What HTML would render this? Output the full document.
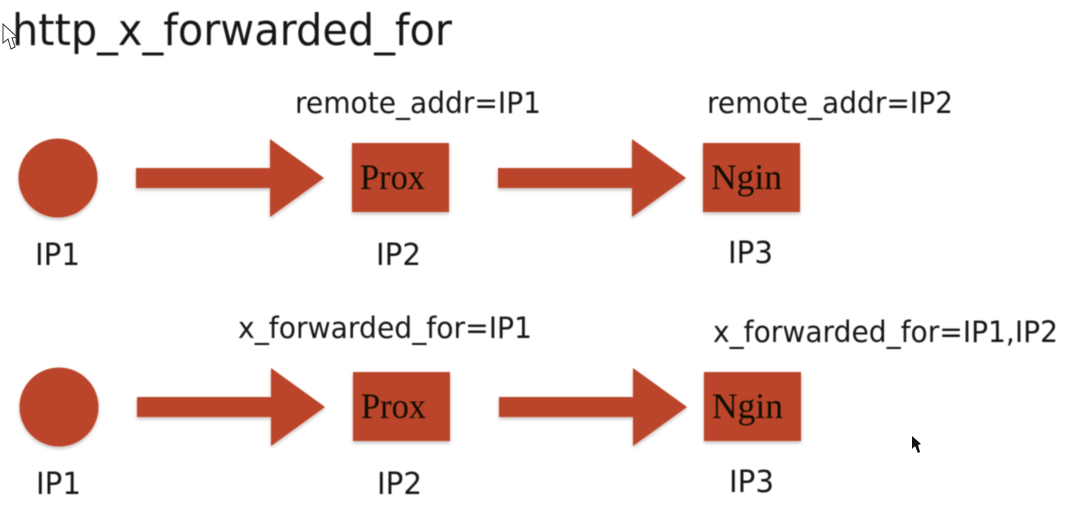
<!DOCTYPE html>
<html>
<head>
<meta charset="utf-8">
<style>
html,body{margin:0;padding:0;background:#fff;width:1079px;height:525px;overflow:hidden}
svg{display:block}
.s{font-family:"DejaVu Sans","Liberation Sans",sans-serif;fill:#161616}
.m{font-family:"Liberation Serif",serif;fill:#0e0804;font-size:36px}
</style>
</head>
<body>
<svg width="1079" height="525" viewBox="0 0 1079 525" xmlns="http://www.w3.org/2000/svg">
<defs>
<filter id="sh" x="-10%" y="-10%" width="120%" height="125%"><feGaussianBlur in="SourceGraphic" stdDeviation="0.4" result="g"/><feDropShadow in="g" dx="0" dy="2" stdDeviation="1.5" flood-color="#000" flood-opacity=".25"/></filter>
<filter id="b" x="-5%" y="-20%" width="110%" height="140%"><feGaussianBlur stdDeviation="0.4"/></filter>
</defs>
<rect width="1079" height="525" fill="#fff"/>
<g fill="#bb452a" filter="url(#sh)">
<circle cx="58" cy="178" r="39.5"/>
<polygon points="136,168 270,168 270,139 324,178 270,217 270,188 136,188"/>
<rect x="352" y="143" width="97" height="69"/>
<polygon points="498,168 632,168 632,139 686,178 632,217 632,188 498,188"/>
<rect x="703" y="143" width="97" height="69"/>
<circle cx="59" cy="407" r="39.5"/>
<polygon points="137,397 271,397 271,368 325,407 271,446 271,417 137,417"/>
<rect x="353" y="372" width="97" height="69"/>
<polygon points="499,397 633,397 633,368 687,407 633,446 633,417 499,417"/>
<rect x="704" y="372" width="97" height="69"/>
</g>
<g filter="url(#b)">
<text class="s" x="12" y="45" font-size="44" textLength="440" lengthAdjust="spacingAndGlyphs">http_x_forwarded_for</text>
<text class="s" x="295" y="113" font-size="29" textLength="246" lengthAdjust="spacingAndGlyphs">remote_addr=IP1</text>
<text class="s" x="707" y="113" font-size="29" textLength="246" lengthAdjust="spacingAndGlyphs">remote_addr=IP2</text>
<text class="s" x="238" y="338" font-size="29" textLength="294" lengthAdjust="spacingAndGlyphs">x_forwarded_for=IP1</text>
<text class="s" x="713" y="342" font-size="29" textLength="345" lengthAdjust="spacingAndGlyphs">x_forwarded_for=IP1,IP2</text>
<text class="s" x="35" y="265" font-size="30" textLength="45" lengthAdjust="spacingAndGlyphs">IP1</text>
<text class="s" x="376" y="265" font-size="30" textLength="45" lengthAdjust="spacingAndGlyphs">IP2</text>
<text class="s" x="728" y="263" font-size="30" textLength="45" lengthAdjust="spacingAndGlyphs">IP3</text>
<text class="s" x="36" y="494" font-size="30" textLength="45" lengthAdjust="spacingAndGlyphs">IP1</text>
<text class="s" x="377" y="494" font-size="30" textLength="45" lengthAdjust="spacingAndGlyphs">IP2</text>
<text class="s" x="729" y="492" font-size="30" textLength="45" lengthAdjust="spacingAndGlyphs">IP3</text>
<text class="m" x="360" y="189" textLength="65" lengthAdjust="spacingAndGlyphs">Prox</text>
<text class="m" x="711" y="189" textLength="71" lengthAdjust="spacingAndGlyphs">Ngin</text>
<text class="m" x="361" y="418" textLength="65" lengthAdjust="spacingAndGlyphs">Prox</text>
<text class="m" x="712" y="418" textLength="71" lengthAdjust="spacingAndGlyphs">Ngin</text>
</g>
<polygon points="3,24 3,43 8,39 11,49 15,47 12,38 17,37" fill="#fff" stroke="#333" stroke-width="1"/>
<polygon points="912,436 912,449 915,446 918,453 920,452 918,445 921,444" fill="#111"/>
</svg>
</body>
</html>
